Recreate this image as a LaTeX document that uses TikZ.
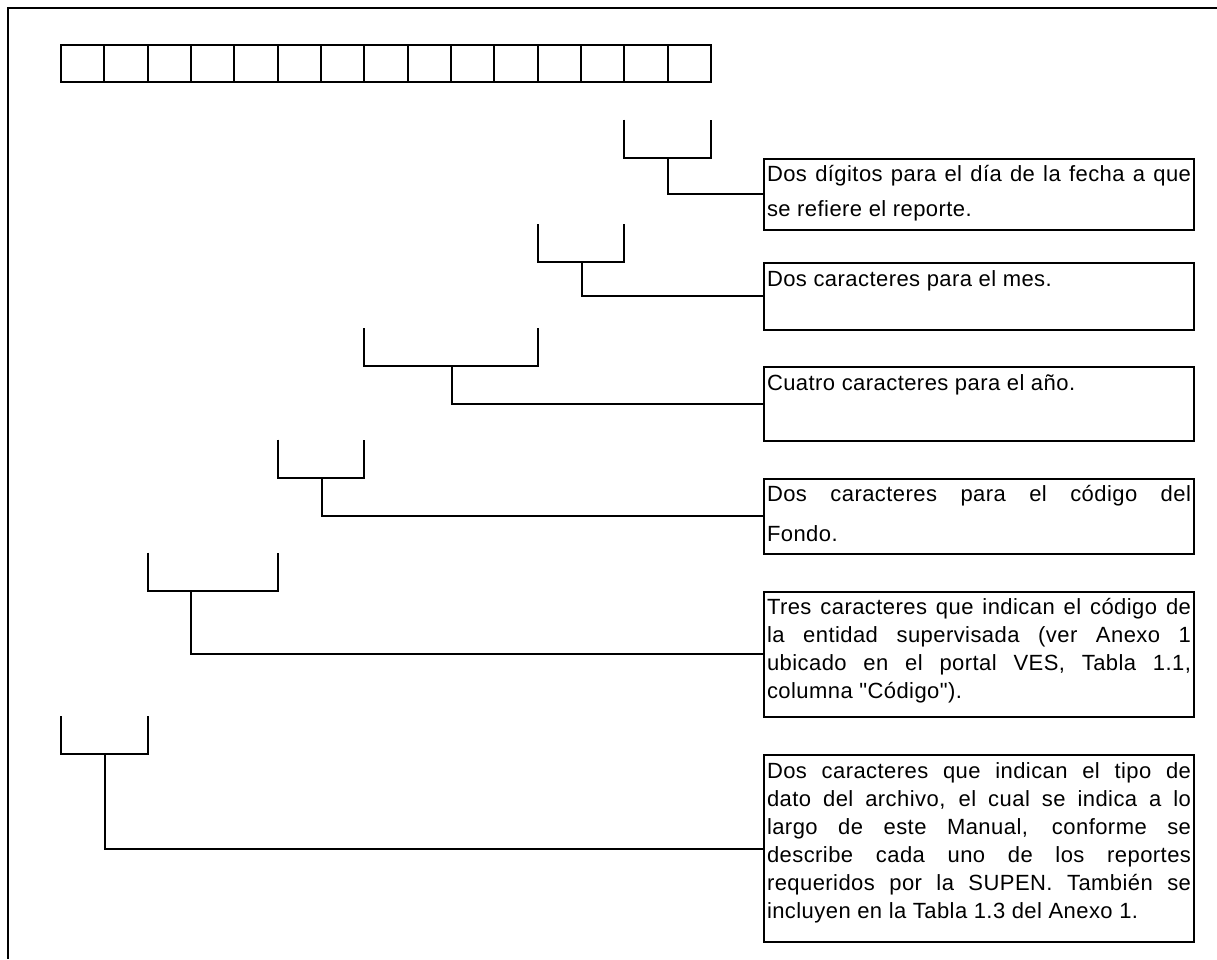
\documentclass[tikz,border=0pt]{standalone}
\usepackage{fontspec}
\setmainfont{Liberation Sans}[LetterSpace=2,Ligatures=TeXOff]
% texto de cada recuadro: alto, interlineado, texto
\newcommand\nota[3]{\parbox[t][#1][t]{424pt}{\baselineskip=#2\relax
  \tolerance=9999\hyphenpenalty=10000\rule{0pt}{23pt}#3}}
\begin{document}
\begin{tikzpicture}[x=1pt,y=-1pt,line width=2pt,
  recuadro/.style={draw,anchor=north west,inner xsep=3pt,inner ysep=0pt,
    font=\fontsize{22}{28}\selectfont}]
  \useasboundingbox (0,0) rectangle (1217,959);
  \def\w{43.333}
  % llave bajo las casillas #1 a #2, base en y=#3, tallo en x=#4
  \def\llave#1#2#3#4#5{
    \draw (61+#1*\w,#3-38) |- (61+#2*\w,#3) -- ++(0,-38);
    \coordinate (#5) at (#4,#3);
  }
  % marco
  \draw (1217,8) -- (8,8) -- (8,959);
  % casillas
  \draw (61,45) rectangle (711,82);
  \foreach \i in {1,...,14}{
    \draw (61+\i*\w,45) -- ++(0,37);
  }
  % recuadros
  \node[recuadro] (dia) at (763,157.7)
    {\nota{71pt}{35pt}{Dos dígitos para el día de la fecha a que\linebreak se refiere el reporte.}};
  \node[recuadro] (mes) at (763,262)
    {\nota{66.7pt}{28pt}{Dos caracteres para el mes.}};
  \node[recuadro] (anio) at (763,366)
    {\nota{74pt}{28pt}{Cuatro caracteres para el año.}};
  \node[recuadro] (fondo) at (763,477.7)
    {\nota{75.3pt}{40pt}{Dos caracteres para el código del\linebreak Fondo.}};
  \node[recuadro] (entidad) at (763,590.7)
    {\nota{125.3pt}{28pt}{Tres caracteres que indican el código de\linebreak la entidad supervisada (ver Anexo 1\linebreak ubicado en el portal VES, Tabla 1.1,\linebreak columna "Código").}};
  \node[recuadro] (tipo) at (763,754)
    {\nota{187pt}{28pt}{Dos caracteres que indican el tipo de\linebreak dato del archivo, el cual se indica a lo\linebreak largo de este Manual, conforme se\linebreak describe cada uno de los reportes\linebreak requeridos por la SUPEN. También se\linebreak incluyen en la Tabla 1.3 del Anexo 1.}};
  % llaves y conectores
  \llave{13}{15}{157.7}{668}{t1}
  \llave{11}{13}{262}{581.5}{t2}
  \llave{7}{11}{366}{451.7}{t3}
  \llave{5}{7}{477.7}{321.5}{t4}
  \llave{2}{5}{590.7}{191}{t5}
  \llave{0}{2}{754}{104.5}{t6}
  \draw (t1) |- (dia.west);
  \draw (t2) |- (mes.west);
  \draw (t3) |- (anio.west);
  \draw (t4) |- (fondo.west);
  \draw (t5) |- (entidad.west);
  \draw (t6) |- (tipo.west);
\end{tikzpicture}
\end{document}
